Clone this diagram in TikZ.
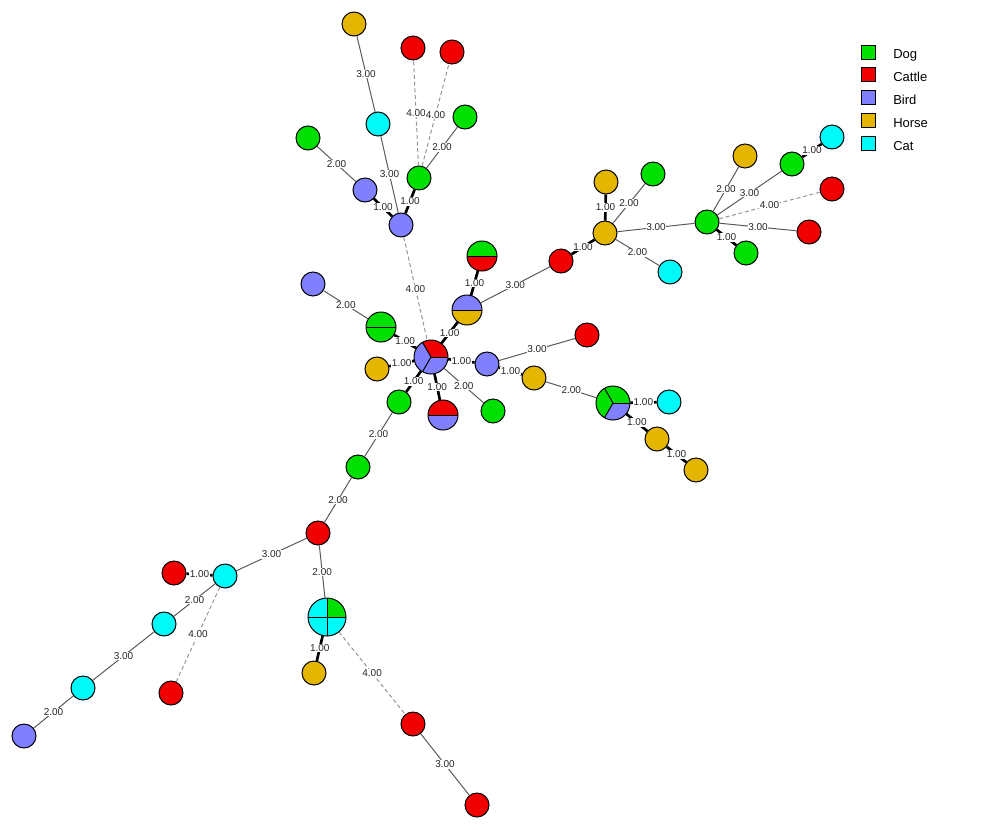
\documentclass[tikz,border=0pt]{standalone}
\usepackage{fontspec}
\setmainfont{Liberation Sans}
\definecolor{cDog}{RGB}{0,224,0}
\definecolor{cCattle}{RGB}{240,0,0}
\definecolor{cBird}{RGB}{128,128,255}
\definecolor{cHorse}{RGB}{228,182,0}
\definecolor{cCat}{RGB}{0,250,250}
\definecolor{thinGray}{RGB}{90,90,90}
\definecolor{dashGray}{RGB}{150,150,150}
\newcommand\mysec[5]{\fill[#5] (#1.center) -- ++(#2:#4) arc[start angle=#2,end angle=#3,radius=#4] -- cycle;}
\newcommand\mydiv[3]{\draw[line width=0.75pt] (#1.center) -- ++(#2:#3);}
\newcommand\myring[2]{\draw[line width=0.75pt] (#1.center) circle[radius=#2];}
\begin{document}
\begin{tikzpicture}[x=0.75pt,y=-0.75pt,
  nd/.style={circle,draw=black,line width=0.75pt,minimum size=18pt,inner sep=0pt},
  dog/.style={nd,fill=cDog}, cattle/.style={nd,fill=cCattle}, bird/.style={nd,fill=cBird},
  horse/.style={nd,fill=cHorse}, cat/.style={nd,fill=cCat},
  pienode/.style={circle,inner sep=0pt,draw=none},
  thinE/.style={draw=thinGray,line width=0.75pt},
  thickE/.style={draw=black,line width=2pt},
  dashE/.style={draw=dashGray,line width=0.75pt,dash pattern=on 3pt off 2pt},
  lab/.style={font=\fontsize{7.5}{8}\selectfont,fill=white,inner sep=0.4pt,text=black!85},
  legbox/.style={draw=black,line width=0.75pt,minimum size=10.5pt,inner sep=0pt},
  legtxt/.style={font=\fontsize{9.75}{11}\selectfont,anchor=west,inner sep=0pt}]
\useasboundingbox (0,0) rectangle (1000,829);
% nodes
\node[horse] (H1) at (354,24) {};
\node[cattle] (R1) at (413,48) {};
\node[cattle] (R2) at (452,52) {};
\node[cat] (C1) at (378,124) {};
\node[dog] (G1) at (308,138) {};
\node[dog] (G2) at (465,117) {};
\node[dog] (G3) at (419,178) {};
\node[bird] (B1) at (365,190) {};
\node[bird] (B2) at (401,225) {};
\node[pienode,minimum size=25.5pt] (M) at (431,357) {};
\node[pienode,minimum size=22.5pt] (GR) at (482,256) {};
\node[pienode,minimum size=22.5pt] (BH) at (467,310) {};
\node[bird] (B3) at (313,284) {};
\node[pienode,minimum size=22.5pt] (GG) at (381,327) {};
\node[horse] (H2) at (377,369) {};
\node[bird] (B4) at (487,364) {};
\node[dog] (G4) at (399,402) {};
\node[pienode,minimum size=22.5pt] (RB) at (443,415) {};
\node[dog] (G5) at (493,411) {};
\node[cattle] (R3) at (561,261) {};
\node[cattle] (R4) at (587,335) {};
\node[horse] (H3) at (534,378) {};
\node[pienode,minimum size=25.5pt] (GB) at (613,403) {};
\node[cat] (C2) at (669,402) {};
\node[horse] (H4) at (657,439) {};
\node[horse] (H5) at (696,470) {};
\node[horse] (H6) at (605,233) {};
\node[horse] (H7) at (606,182) {};
\node[dog] (G6) at (653,174) {};
\node[cat] (C3) at (670,272) {};
\node[dog] (G7) at (707,222) {};
\node[horse] (H8) at (745,156) {};
\node[dog] (G8) at (792,164) {};
\node[cat] (C4) at (832,137) {};
\node[cattle] (R5) at (832,189) {};
\node[cattle] (R6) at (809,232) {};
\node[dog] (G9) at (746,253) {};
\node[dog] (G10) at (358,467) {};
\node[cattle] (R7) at (318,533) {};
\node[cat] (C5) at (225,576) {};
\node[cattle] (R8) at (174,573) {};
\node[cat] (C6) at (164,624) {};
\node[cat] (C7) at (83,688) {};
\node[bird] (B5) at (24,736) {};
\node[cattle] (R9) at (171,693) {};
\node[pienode,minimum size=28.5pt] (Q) at (327,617) {};
\node[horse] (H9) at (314,673) {};
\node[cattle] (R10) at (413,724) {};
\node[cattle] (R11) at (477,805) {};
% pie fills
\mysec{M}{0}{120}{12.75pt}{cCattle}
\mysec{M}{120}{360}{12.75pt}{cBird}
\mydiv{M}{0}{12.75pt}\mydiv{M}{120}{12.75pt}\mydiv{M}{240}{12.75pt}
\myring{M}{12.75pt}
\mysec{GB}{0}{240}{12.75pt}{cDog}
\mysec{GB}{240}{360}{12.75pt}{cBird}
\mydiv{GB}{0}{12.75pt}\mydiv{GB}{120}{12.75pt}\mydiv{GB}{240}{12.75pt}
\myring{GB}{12.75pt}
\mysec{GR}{0}{180}{11.25pt}{cDog}
\mysec{GR}{180}{360}{11.25pt}{cCattle}
\mydiv{GR}{0}{11.25pt}\mydiv{GR}{180}{11.25pt}
\myring{GR}{11.25pt}
\mysec{BH}{0}{180}{11.25pt}{cBird}
\mysec{BH}{180}{360}{11.25pt}{cHorse}
\mydiv{BH}{0}{11.25pt}\mydiv{BH}{180}{11.25pt}
\myring{BH}{11.25pt}
\mysec{GG}{0}{360}{11.25pt}{cDog}
\mydiv{GG}{0}{11.25pt}\mydiv{GG}{180}{11.25pt}
\myring{GG}{11.25pt}
\mysec{RB}{0}{180}{11.25pt}{cCattle}
\mysec{RB}{180}{360}{11.25pt}{cBird}
\mydiv{RB}{0}{11.25pt}\mydiv{RB}{180}{11.25pt}
\myring{RB}{11.25pt}
\mysec{Q}{0}{90}{14.25pt}{cDog}
\mysec{Q}{90}{360}{14.25pt}{cCat}
\mydiv{Q}{0}{14.25pt}\mydiv{Q}{90}{14.25pt}\mydiv{Q}{180}{14.25pt}\mydiv{Q}{270}{14.25pt}
\myring{Q}{14.25pt}
% thin edges
\draw[thinE] (H1) -- node[lab]{3.00} (C1);
\draw[thinE] (C1) -- node[lab]{3.00} (B2);
\draw[thinE] (G1) -- node[lab]{2.00} (B1);
\draw[thinE] (G3) -- node[lab]{2.00} (G2);
\draw[thinE] (B3) -- node[lab]{2.00} (GG);
\draw[thinE] (M) -- node[lab]{2.00} (G5);
\draw[thinE] (BH) -- node[lab]{3.00} (R3);
\draw[thinE] (B4) -- node[lab]{3.00} (R4);
\draw[thinE] (H3) -- node[lab]{2.00} (GB);
\draw[thinE] (H6) -- node[lab]{2.00} (G6);
\draw[thinE] (H6) -- node[lab]{2.00} (C3);
\draw[thinE] (H6) -- node[lab]{3.00} (G7);
\draw[thinE] (G7) -- node[lab]{2.00} (H8);
\draw[thinE] (G7) -- node[lab]{3.00} (G8);
\draw[thinE] (G7) -- node[lab]{3.00} (R6);
\draw[thinE] (G4) -- node[lab]{2.00} (G10);
\draw[thinE] (G10) -- node[lab]{2.00} (R7);
\draw[thinE] (R7) -- node[lab]{3.00} (C5);
\draw[thinE] (R7) -- node[lab]{2.00} (Q);
\draw[thinE] (C5) -- node[lab]{2.00} (C6);
\draw[thinE] (C6) -- node[lab]{3.00} (C7);
\draw[thinE] (C7) -- node[lab]{2.00} (B5);
\draw[thinE] (R10) -- node[lab]{3.00} (R11);
% thick edges
\draw[thickE] (B1) -- node[lab]{1.00} (B2);
\draw[thickE] (B2) -- node[lab]{1.00} (G3);
\draw[thickE] (GG) -- node[lab]{1.00} (M);
\draw[thickE] (H2) -- node[lab]{1.00} (M);
\draw[thickE] (G4) -- node[lab]{1.00} (M);
\draw[thickE] (RB) -- node[lab]{1.00} (M);
\draw[thickE] (M) -- node[lab]{1.00} (B4);
\draw[thickE] (M) -- node[lab]{1.00} (BH);
\draw[thickE] (BH) -- node[lab]{1.00} (GR);
\draw[thickE] (R3) -- node[lab]{1.00} (H6);
\draw[thickE] (B4) -- node[lab]{1.00} (H3);
\draw[thickE] (GB) -- node[lab]{1.00} (C2);
\draw[thickE] (GB) -- node[lab]{1.00} (H4);
\draw[thickE] (H4) -- node[lab]{1.00} (H5);
\draw[thickE] (H6) -- node[lab]{1.00} (H7);
\draw[thickE] (G8) -- node[lab]{1.00} (C4);
\draw[thickE] (G7) -- node[lab]{1.00} (G9);
\draw[thickE] (C5) -- node[lab]{1.00} (R8);
\draw[thickE] (Q) -- node[lab]{1.00} (H9);
% dashed edges
\draw[dashE] (G3) -- node[lab]{4.00} (R1);
\draw[dashE] (G3) -- node[lab]{4.00} (R2);
\draw[dashE] (B2) -- node[lab]{4.00} (M);
\draw[dashE] (G7) -- node[lab]{4.00} (R5);
\draw[dashE] (C5) -- node[lab]{4.00} (R9);
\draw[dashE] (Q) -- node[lab]{4.00} (R10);
% legend
\node[legbox,fill=cDog] (L1) at (868,52) {};
\node[legbox,fill=cCattle] (L2) at (868,74) {};
\node[legbox,fill=cBird] (L3) at (868,97) {};
\node[legbox,fill=cHorse] (L4) at (868,120) {};
\node[legbox,fill=cCat] (L5) at (868,143) {};
\node[legtxt] (T1) at (893,55) {Dog};
\node[legtxt] (T2) at (893,77) {Cattle};
\node[legtxt] (T3) at (893,100) {Bird};
\node[legtxt] (T4) at (893,123) {Horse};
\node[legtxt] (T5) at (893,146) {Cat};
\end{tikzpicture}
\end{document}
